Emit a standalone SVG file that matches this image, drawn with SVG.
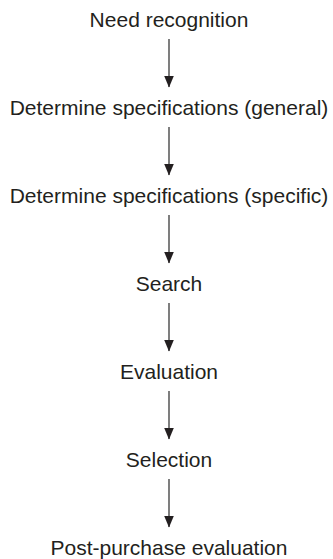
<svg xmlns="http://www.w3.org/2000/svg" width="333" height="559" viewBox="0 0 333 559">
<style>
.lbl{font-family:"Liberation Sans",Arial,sans-serif;font-size:21px;fill:#231f20;text-anchor:middle}
.conn{stroke:#3a3a3a;stroke-width:1.3;fill:none;marker-end:url(#ah)}
</style>
<defs>
<marker id="ah" markerUnits="userSpaceOnUse" markerWidth="12" markerHeight="10" refX="11.5" refY="5" orient="auto" viewBox="0 0 12 10">
<path d="M0,0 L12,5 L0,10 Z" fill="#231f20"/>
</marker>
</defs>
<rect width="333" height="559" fill="#ffffff"/>
<g id="connectors">
<path class="conn" d="M169,39 V87"/>
<path class="conn" d="M169,127 V175"/>
<path class="conn" d="M169,215 V263"/>
<path class="conn" d="M169,303 V351"/>
<path class="conn" d="M169,391 V439"/>
<path class="conn" d="M169,479 V527"/>
</g>
<g id="n1"><text class="lbl" x="169" y="27.3">Need recognition</text></g>
<g id="n2"><text class="lbl" x="169" y="115.3">Determine specifications (general)</text></g>
<g id="n3"><text class="lbl" x="169" y="203.3">Determine specifications (specific)</text></g>
<g id="n4"><text class="lbl" x="169" y="291.3">Search</text></g>
<g id="n5"><text class="lbl" x="169" y="379.3">Evaluation</text></g>
<g id="n6"><text class="lbl" x="169" y="467.3">Selection</text></g>
<g id="n7"><text class="lbl" x="169" y="555.3">Post-purchase evaluation</text></g>
</svg>
